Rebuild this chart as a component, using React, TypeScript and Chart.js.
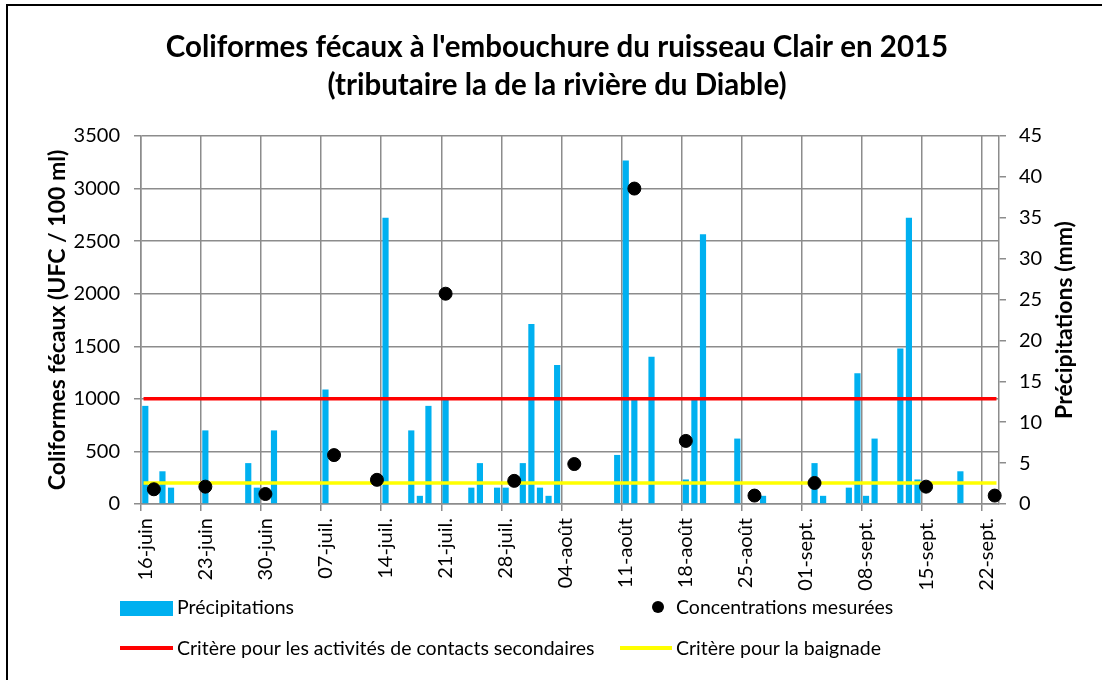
import React, { useEffect, useRef } from 'react';
import { Chart, registerables } from 'chart.js';

Chart.register(...registerables);

// ---------- Data ----------
const TITLE_LINES = [
  "Coliformes fécaux à l'embouchure du ruisseau Clair en 2015",
  '(tributaire la de la rivière du Diable)',
];
const Y_TITLE = 'Coliformes fécaux (UFC / 100 ml)';
const Y2_TITLE = 'Précipitations (mm)';

const FIRST_DAY = { year: 2015, month: 6, day: 16 };
const DAY_COUNT = 100;
const TICK_EVERY = 7;
const TICK_LABELS = [
  '16-juin', '23-juin', '30-juin', '07-juil.', '14-juil.', '21-juil.', '28-juil.',
  '04-août', '11-août', '18-août', '25-août', '01-sept.', '08-sept.', '15-sept.', '22-sept.',
];

const PRECIP_DATES = [
  '06-16', '06-18', '06-19', '06-23', '06-28', '06-29', '07-01', '07-07', '07-14', '07-17',
  '07-18', '07-19', '07-21', '07-24', '07-25', '07-27', '07-28', '07-30', '07-31', '08-01',
  '08-02', '08-03', '08-10', '08-11', '08-12', '08-14', '08-18', '08-19', '08-20', '08-24',
  '08-27', '09-02', '09-03', '09-06', '09-07', '09-08', '09-09', '09-12', '09-13', '09-14',
  '09-19',
];
const PRECIP_MM = [
  12, 4, 2, 9, 5, 2, 9, 14, 35, 9,
  1, 12, 13, 2, 5, 2, 2, 5, 22, 2,
  1, 17, 6, 42, 13, 18, 3, 13, 33, 8,
  1, 5, 1, 2, 16, 1, 8, 19, 35, 3,
  4,
];

const CONC_DATES = [
  '06-17', '06-23', '06-30', '07-08', '07-13', '07-21', '07-29',
  '08-05', '08-12', '08-18', '08-26', '09-02', '09-15', '09-23',
];
const CONC_UFC = [140, 165, 95, 465, 230, 2000, 220, 380, 3000, 600, 80, 200, 165, 80];

const CRITERE_SECONDAIRE = 1000;
const CRITERE_BAIGNADE = 200;

const LEGEND_LABELS = {
  precip: 'Précipitations',
  conc: 'Concentrations mesurées',
  secondaire: 'Critère pour les activités de contacts secondaires',
  baignade: 'Critère pour la baignade',
};

// ---------- Styles ----------
const FONT = 'Lato, "Open Sans", sans-serif';
const BLUE = '#00B0F0';
const RED = '#FF0000';
const YELLOW = '#FFFF00';
const GRID = '#8c8c8c';

function buildDayKeys(): string[] {
  const keys: string[] = [];
  for (let i = 0; i < DAY_COUNT; i++) {
    const d = new Date(FIRST_DAY.year, FIRST_DAY.month - 1, FIRST_DAY.day + i);
    const mm = String(d.getMonth() + 1).padStart(2, '0');
    const dd = String(d.getDate()).padStart(2, '0');
    keys.push(`${mm}-${dd}`);
  }
  return keys;
}

const rightTitlePlugin = {
  id: 'rightTitle',
  afterDraw(chart: any) {
    const { ctx, chartArea } = chart;
    const s = chart.scales.y2;
    ctx.save();
    ctx.translate(s.right - 37, (chartArea.top + chartArea.bottom) / 2);
    ctx.rotate(-Math.PI / 2);
    ctx.font = `bold 23px ${FONT}`;
    ctx.fillStyle = '#000';
    ctx.textAlign = 'center';
    ctx.textBaseline = 'middle';
    ctx.fillText(Y2_TITLE, 0, 0);
    ctx.restore();
  },
};

export default function App() {
  const canvasRef = useRef<HTMLCanvasElement | null>(null);

  useEffect(() => {
    const canvas = canvasRef.current;
    if (!canvas) return;
    const dayKeys = buildDayKeys();
    const precip = dayKeys.map((k) => {
      const i = PRECIP_DATES.indexOf(k);
      return i >= 0 ? PRECIP_MM[i] : null;
    });
    const conc = dayKeys.map((k) => {
      const i = CONC_DATES.indexOf(k);
      return i >= 0 ? CONC_UFC[i] : null;
    });
    const secondaire = dayKeys.map(() => CRITERE_SECONDAIRE);
    const baignade = dayKeys.map(() => CRITERE_BAIGNADE);

    const chart = new Chart(canvas, {
      type: 'bar',
      data: {
        labels: dayKeys,
        datasets: [
          {
            type: 'line',
            label: LEGEND_LABELS.conc,
            data: conc,
            yAxisID: 'y',
            showLine: false,
            pointRadius: 6.5,
            pointBackgroundColor: '#000',
            pointBorderColor: '#000',
            borderColor: '#000',
            backgroundColor: '#000',
            order: 0,
          },
          {
            type: 'line',
            label: LEGEND_LABELS.secondaire,
            data: secondaire,
            yAxisID: 'y',
            borderColor: RED,
            borderWidth: 3.5,
            pointRadius: 0,
            borderCapStyle: 'square',
            order: 1,
          },
          {
            type: 'line',
            label: LEGEND_LABELS.baignade,
            data: baignade,
            yAxisID: 'y',
            borderColor: YELLOW,
            borderWidth: 3.5,
            pointRadius: 0,
            borderCapStyle: 'square',
            order: 2,
          },
          {
            type: 'bar',
            label: LEGEND_LABELS.precip,
            data: precip,
            yAxisID: 'y2',
            backgroundColor: BLUE,
            borderWidth: 0,
            barPercentage: 0.72,
            categoryPercentage: 1,
            order: 3,
          },
        ],
      } as any,
      options: {
        responsive: false,
        animation: false,
        events: [],
        layout: { padding: { left: 12, right: 0, top: 0, bottom: 76 } },
        plugins: {
          legend: { display: false },
          tooltip: { enabled: false },
          title: {
            display: true,
            text: TITLE_LINES,
            color: '#000',
            font: { family: FONT, size: 29.5, weight: 'bold', lineHeight: 38 / 29.5 },
            padding: { top: 28, bottom: 32 },
          },
        },
        scales: {
          x: {
            type: 'category',
            offset: true,
            grid: {
              offset: true,
              color: (c: any) => (c.index % TICK_EVERY === 0 ? GRID : 'rgba(0,0,0,0)'),
              lineWidth: 1.5,
              tickLength: 7,
            },
            border: { display: true, color: GRID, width: 1.5 },
            ticks: {
              autoSkip: false,
              minRotation: 90,
              maxRotation: 90,
              padding: 7,
              color: '#000',
              font: { family: FONT, size: 20 },
              callback: (_v: any, idx: number) =>
                idx % TICK_EVERY === 0 ? TICK_LABELS[idx / TICK_EVERY] ?? '' : '',
            },
            afterFit: (s: any) => {
              s.height = 100;
            },
          },
          y: {
            position: 'left',
            min: 0,
            max: 3500,
            grid: { color: GRID, lineWidth: 1.5, tickLength: 7 },
            border: { display: true, color: GRID, width: 1.5 },
            ticks: {
              stepSize: 500,
              padding: 14,
              color: '#000',
              font: { family: FONT, size: 20 },
              callback: (v: any) => String(v),
            },
            title: {
              display: true,
              text: Y_TITLE,
              color: '#000',
              font: { family: FONT, size: 23, weight: 'bold', lineHeight: 1.2 },
              padding: { top: 31.5, bottom: 0 },
            },
            afterFit: (s: any) => {
              s.width = 129;
            },
          },
          y2: {
            position: 'right',
            min: 0,
            max: 45,
            grid: { drawOnChartArea: false, color: GRID, lineWidth: 1.5, tickLength: 7 },
            border: { display: true, color: GRID, width: 1.5 },
            ticks: {
              stepSize: 5,
              padding: 13,
              color: '#000',
              font: { family: FONT, size: 20 },
              callback: (v: any) => String(v),
            },
            afterFit: (s: any) => {
              s.width = 103;
            },
          },
        },
      } as any,
      plugins: [rightTitlePlugin],
    });
    return () => chart.destroy();
  }, []);

  const textStyle: React.CSSProperties = {
    position: 'absolute',
    height: 26,
    lineHeight: '26px',
    fontFamily: FONT,
    fontSize: 19.5,
    color: '#000',
    whiteSpace: 'nowrap',
  };

  return (
    <div
      style={{
        position: 'fixed',
        left: 0,
        top: 0,
        width: 1102,
        height: 680,
        overflow: 'hidden',
        background: '#fff',
      }}
    >
      <div
        style={{
          position: 'absolute',
          left: 6,
          top: 4,
          width: 1200,
          height: 800,
          borderLeft: '2px solid #000',
          borderTop: '2px solid #000',
        }}
      />
      <canvas
        ref={canvasRef}
        width={1102}
        height={680}
        style={{ position: 'absolute', left: 0, top: 0, width: 1102, height: 680 }}
      />
      {/* Legend */}
      <div style={{ position: 'absolute', left: 120, top: 601, width: 53, height: 15, background: BLUE }} />
      <div style={{ ...textStyle, left: 177, top: 594 }}>{LEGEND_LABELS.precip}</div>
      <div
        style={{
          position: 'absolute',
          left: 652,
          top: 601,
          width: 12,
          height: 12,
          borderRadius: '50%',
          background: '#000',
        }}
      />
      <div style={{ ...textStyle, left: 676, top: 594 }}>{LEGEND_LABELS.conc}</div>
      <div style={{ position: 'absolute', left: 120, top: 646, width: 53, height: 4, background: RED }} />
      <div style={{ ...textStyle, left: 177, top: 635 }}>{LEGEND_LABELS.secondaire}</div>
      <div style={{ position: 'absolute', left: 620, top: 646, width: 52, height: 4, background: YELLOW }} />
      <div style={{ ...textStyle, left: 676, top: 635 }}>{LEGEND_LABELS.baignade}</div>
    </div>
  );
}
